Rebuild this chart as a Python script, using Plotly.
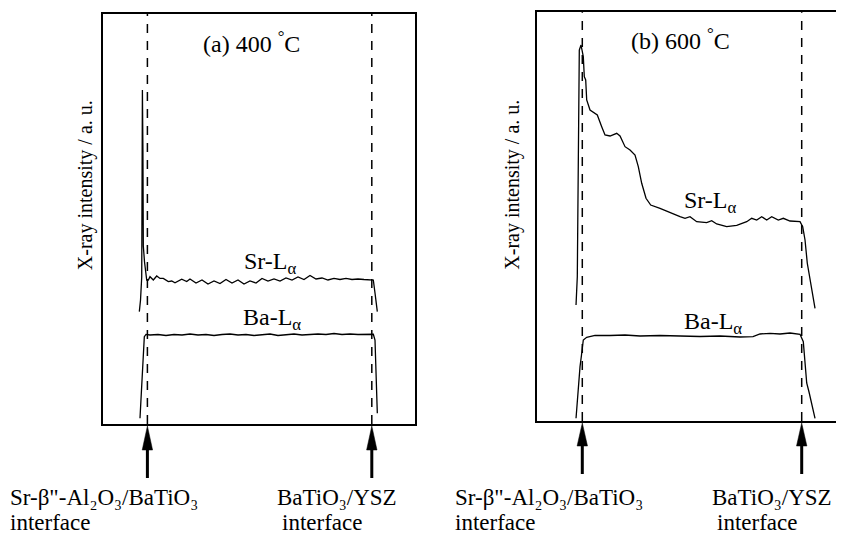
import plotly.graph_objects as go

# ---------------- data (position / a.u., intensity / a.u.) ----------------
# (a) 400 C
sr_a_x = [9.08, 9.38, 9.68, 9.8, 9.85, 9.98, 10.08, 10.38, 10.93, 11.33,
          11.75, 12.58, 13.43, 14.25, 15.08, 16.33, 17.18, 18.0, 19.68, 20.93,
          21.75, 23.25, 24.75, 26.25, 27.75, 29.25, 30.75, 32.25, 33.75, 35.25,
          36.75, 38.25, 39.75, 41.25, 42.75, 44.25, 45.75, 47.25, 48.75, 50.25,
          51.75, 53.25, 54.75, 56.25, 57.75, 59.25, 60.75, 62.25, 63.75, 65.25,
          66.75, 67.58, 68.0, 68.58]
sr_a_y = [28.08, 31.0, 36.75, 56.0, 83.5, 68.5, 44.5, 40.5, 36.0, 36.0,
          36.83, 36.0, 37.0, 36.4, 36.4, 35.6, 35.75, 35.3, 36.2, 35.6,
          36.25, 35.25, 36.0, 35.0, 35.75, 35.13, 36.13, 35.25, 36.0, 35.0,
          35.75, 35.25, 36.38, 35.75, 36.25, 35.75, 36.5, 36.0, 36.75, 36.13,
          37.13, 36.25, 36.5, 36.0, 36.38, 36.13, 36.38, 36.13, 36.25, 36.13,
          36.13, 36.0, 32.75, 28.08]
ba_a_x = [9.25, 9.5, 9.75, 9.93, 10.13, 10.33, 10.75,
          11.75, 13.75, 15.75, 17.75, 19.75, 21.75, 23.75, 25.75, 27.75, 29.75,
          31.75, 33.75, 35.75, 37.75, 39.75, 41.75, 43.75, 45.75, 47.75, 49.75,
          51.75, 53.75, 55.75, 57.75, 59.75, 61.75, 63.75, 65.75,
          67.58, 68.0, 68.25, 68.38, 68.58]
ba_a_y = [1.43, 6.0, 12.25, 14.33, 19.75, 21.83, 22.38,
          22.25, 22.38, 22.13, 22.38, 22.25, 22.5, 22.25, 22.38, 22.13, 22.38,
          22.5, 22.25, 22.38, 22.13, 22.38, 22.5, 22.13, 22.38, 22.5, 22.25,
          22.38, 22.5, 22.38, 22.63, 22.38, 22.5, 22.38, 22.5,
          22.43, 21.0, 14.33, 8.5, 2.68]
interfaces_a = [11.1, 67.2]

# (b) 600 C
sr_b_x = [9.68, 10.0, 10.5, 10.93, 11.5, 11.75, 12.1, 12.35, 13.18, 15.0,
          16.1, 16.93, 18.18, 19.85, 20.68, 21.93, 23.18, 24.43, 25.25, 26.1,
          27.18, 28.35, 30.68, 33.18, 35.68, 36.93, 38.18, 39.85, 42.35, 43.6,
          44.85, 47.35, 49.85, 52.35, 53.6, 54.85, 56.1, 57.35, 58.6, 60.25,
          61.5, 63.18, 65.68, 66.35, 66.93, 67.5, 68.18, 68.85, 69.43]
sr_b_y = [29.0, 36.08, 92.75, 94.0, 91.08, 86.08, 85.25, 80.25, 77.75, 76.5,
          73.58, 71.5, 71.25, 71.93, 71.25, 68.58, 67.75, 66.5, 63.58, 59.43,
          55.68, 54.0, 53.18, 52.08, 51.08, 50.68, 51.08, 49.83, 49.58, 50.08,
          49.25, 48.58, 48.93, 49.83, 50.68, 50.25, 51.08, 50.25, 51.08, 50.25,
          50.68, 50.0, 49.83, 48.58, 45.25, 39.43, 35.25, 31.93, 28.18]
ba_b_x = [9.68, 10.18, 10.68, 11.05, 11.5, 12.35, 14.43, 18.18, 21.93, 25.68,
          30.68, 35.68, 40.68, 45.68, 50.68, 53.93, 55.68, 58.18, 60.68, 63.18,
          65.68, 66.5, 66.93, 67.35, 67.93, 68.6, 69.43]
ba_b_y = [0.68, 7.75, 13.58, 16.5, 20.25, 20.93, 21.38, 21.38, 21.5, 21.25,
          21.38, 21.25, 21.13, 21.25, 21.0, 21.08, 21.75, 21.93, 21.75, 22.0,
          21.68, 19.83, 15.25, 9.5, 7.25, 4.5, 0.68]
interfaces_b = [11.25, 66.1]

panel_titles = ["(a) 400 <sup>°</sup>C", "(b) 600 <sup>°</sup>C"]
ylabel = "X-ray intensity / a. u."
sr_label = "Sr-L<sub>α</sub>"
ba_label = "Ba-L<sub>α</sub>"
iface_left = "Sr-β\"-Al₂O₃/BaTiO₃"
iface_right = "BaTiO₃/YSZ"
iface_word = "interface"

FONT = "Liberation Serif"
# the page adds an 8 px body margin, so the figure is 8 px smaller each way
W, H = 836, 528

fig = go.Figure()
line_style = dict(color="black", width=1.3)
fig.add_trace(go.Scatter(x=sr_a_x, y=sr_a_y, mode="lines", line=line_style, xaxis="x", yaxis="y"))
fig.add_trace(go.Scatter(x=ba_a_x, y=ba_a_y, mode="lines", line=line_style, xaxis="x", yaxis="y"))
fig.add_trace(go.Scatter(x=sr_b_x, y=sr_b_y, mode="lines", line=line_style, xaxis="x2", yaxis="y2"))
fig.add_trace(go.Scatter(x=ba_b_x, y=ba_b_y, mode="lines", line=line_style, xaxis="x2", yaxis="y2"))

ax_common = dict(showgrid=False, zeroline=False, showticklabels=False, ticks="",
                 showline=True, linecolor="black", linewidth=2, fixedrange=True)

fig.update_layout(
    width=W, height=H, autosize=False,
    margin=dict(l=0, r=0, t=0, b=0),
    paper_bgcolor="white", plot_bgcolor="white",
    showlegend=False,
    font=dict(family=FONT, color="black", size=20),
    xaxis=dict(domain=[95 / W, 407 / W], range=[0, 78], mirror=True, anchor="y", **ax_common),
    yaxis=dict(domain=[(H - 416) / H, (H - 6) / H], range=[0, 102.5], mirror=True, anchor="x", **ax_common),
    xaxis2=dict(domain=[529.3 / W, 1.0], range=[0, 76.675], mirror=True, anchor="y2", **ax_common),
    yaxis2=dict(domain=[(H - 413) / H, (H - 4.3) / H], range=[0, 102.175], mirror=False, anchor="x2",
                **ax_common),
)

shapes = []
annotations = []

# dashed interface lines + arrows (arrow tip / head base / tail, in paper y)
arrow_geom = {"x": (110 / H, 86 / H, 58 / H), "x2": (113 / H, 90 / H, 62 / H)}
for xref, yref, ifaces in (("x", "y", interfaces_a), ("x2", "y2", interfaces_b)):
    ytip, ybase, yend = arrow_geom[xref]
    for xi in ifaces:
        shapes.append(dict(type="line", xref=xref, yref=yref + " domain", x0=xi, x1=xi, y0=0, y1=1,
                           line=dict(color="black", width=1.5, dash="9px,8px")))
        shapes.append(dict(type="line", xref=xref, yref="paper", x0=xi, x1=xi, y0=ybase, y1=yend,
                           line=dict(color="black", width=3)))
        shapes.append(dict(type="path", xref=xref, yref="paper",
                           path=f"M {xi - 1.3},{ybase} L {xi},{ytip} L {xi + 1.3},{ybase} Z",
                           fillcolor="black", line=dict(color="black", width=0.5)))


def tfont(size):
    return dict(family=FONT, size=size, color="black")


# panel titles
annotations.append(dict(text=panel_titles[0], x=37.0, y=95.6, xref="x", yref="y", showarrow=False,
                        font=tfont(24)))
annotations.append(dict(text=panel_titles[1], x=35.9, y=95.45, xref="x2", yref="y2", showarrow=False,
                        font=tfont(24)))
# curve labels
for txt, x, y, xr, yr in ((sr_label, 41.75, 40.2, "x", "y"), (ba_label, 42.2, 26.2, "x", "y"),
                          (sr_label, 43.4, 54.85, "x2", "y2"), (ba_label, 44.0, 24.6, "x2", "y2")):
    annotations.append(dict(text=txt, x=x, y=y, xref=xr, yref=yr, showarrow=False, font=tfont(24)))

# y labels
for xp in (63.7, 503.7):
    annotations.append(dict(text=ylabel, x=xp / W, y=(H - 177) / H, xref="paper", yref="paper",
                            showarrow=False, textangle=-90, font=tfont(20)))

# interface labels (two separate lines each)
for txt, xp, yp in ((iface_left, 0, 489.2), (iface_word, 0, 514.7),
                    (iface_right, 267, 489.2), (iface_word, 272, 514.7),
                    (iface_left, 445, 489.2), (iface_word, 445, 514.7),
                    (iface_right, 702, 489.2), (iface_word, 707, 514.7)):
    annotations.append(dict(text=txt, x=xp / W, y=(H - yp) / H, xref="paper", yref="paper",
                            xanchor="left", yanchor="middle", showarrow=False, font=tfont(23)))

fig.update_layout(shapes=shapes, annotations=annotations)
fig.write_html("out.html")
